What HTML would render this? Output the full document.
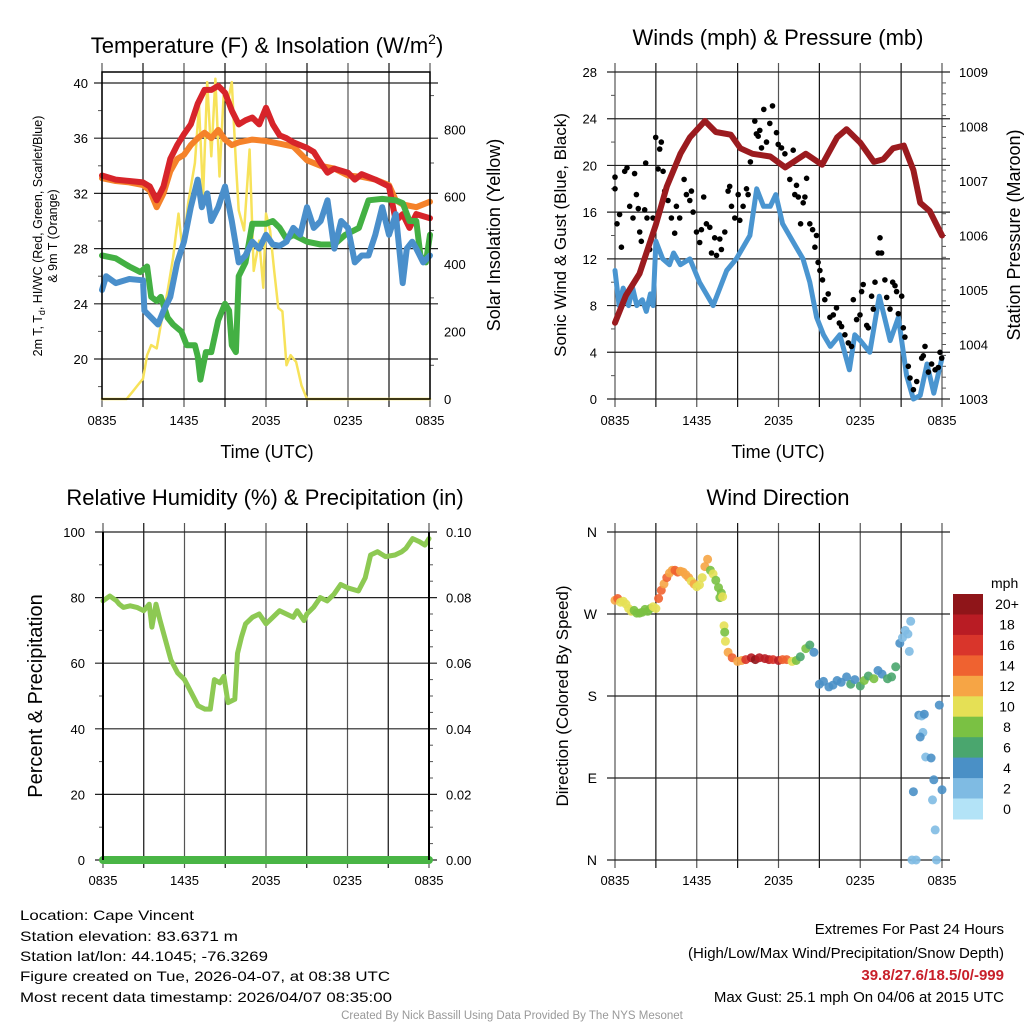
<!DOCTYPE html>
<html><head><meta charset="utf-8"><style>
html,body{margin:0;padding:0;background:#fff;}
svg{display:block;font-family:"Liberation Sans",sans-serif;}
</style></head><body>
<svg id="c" width="1024" height="1024" viewBox="0 0 1024 1024" xmlns="http://www.w3.org/2000/svg">
<g id="titles" font-size="22" text-anchor="middle" fill="#000">
<text x="267" y="53">Temperature (F) &amp; Insolation (W/m<tspan dy="-9" font-size="14">2</tspan><tspan dy="9">)</tspan></text>
<text x="778" y="45">Winds (mph) &amp; Pressure (mb)</text>
<text x="265" y="505">Relative Humidity (%) &amp; Precipitation (in)</text>
<text x="778" y="505">Wind Direction</text>
</g>
<g fill="#000" text-anchor="middle">
<text x="267" y="458" font-size="18">Time (UTC)</text>
<text x="778" y="458" font-size="18">Time (UTC)</text>
<text transform="translate(42,236) rotate(-90)" font-size="12.5">2m T, T<tspan font-size="9" dy="3">d</tspan><tspan dy="-3">, HI/WC (Red, Green, Scarlet/Blue)</tspan></text>
<text transform="translate(57,236) rotate(-90)" font-size="12.5">&amp; 9m T (Orange)</text>
<text transform="translate(500,235) rotate(-90)" font-size="18">Solar Insolation (Yellow)</text>
<text transform="translate(566,235) rotate(-90)" font-size="17">Sonic Wind &amp; Gust (Blue, Black)</text>
<text transform="translate(1020,235) rotate(-90)" font-size="18">Station Pressure (Maroon)</text>
<text transform="translate(42,696) rotate(-90)" font-size="20">Percent &amp; Precipitation</text>
<text transform="translate(568,696) rotate(-90)" font-size="17">Direction (Colored By Speed)</text>
</g>
<g font-size="14" fill="#000">
<text x="20" y="920" textLength="174" lengthAdjust="spacingAndGlyphs">Location: Cape Vincent</text>
<text x="20" y="941" textLength="218" lengthAdjust="spacingAndGlyphs">Station elevation: 83.6371 m</text>
<text x="20" y="961" textLength="248" lengthAdjust="spacingAndGlyphs">Station lat/lon: 44.1045; -76.3269</text>
<text x="20" y="981" textLength="370" lengthAdjust="spacingAndGlyphs">Figure created on Tue, 2026-04-07, at 08:38 UTC</text>
<text x="20" y="1002" textLength="372" lengthAdjust="spacingAndGlyphs">Most recent data timestamp: 2026/04/07 08:35:00</text>
</g>
<g font-size="15" fill="#000" text-anchor="end">
<text x="1004" y="934">Extremes For Past 24 Hours</text>
<text x="1004" y="958">(High/Low/Max Wind/Precipitation/Snow Depth)</text>
<text x="1004" y="980" font-weight="bold" fill="#c8202a">39.8/27.6/18.5/0/-999</text>
<text x="1004" y="1002">Max Gust: 25.1 mph On 04/06 at 2015 UTC</text>
</g>
<text x="512" y="1019" font-size="11.5" fill="#999" text-anchor="middle">Created By Nick Bassill Using Data Provided By The NYS Mesonet</text>
</svg>
<script>
// ---------- data ----------
const xTickLabels = ["0835","1435","2035","0235","0835"];
const tempTicks = [20,24,28,32,36,40];
const solarTicks = [0,200,400,600,800];
const windTicks = [0,4,8,12,16,20,24,28];
const presTicks = [1003,1004,1005,1006,1007,1008,1009];
const rhTicks = [0,20,40,60,80,100];
const precipTickLabels = ["0.00","0.02","0.04","0.06","0.08","0.10"];
const dirTickLabels = ["N","E","S","W","N"];
const speedBinLabels = ["20+","18","16","14","12","10","8","6","4","2","0"];

const redT_h = [0,1,2,3,3.5,4,4.5,5,5.5,6,6.5,7,7.5,8,8.5,9,9.5,10,10.5,11,11.5,12,12.5,13,13.5,14,15,15.5,16,16.5,17,18,18.5,19,20,21,21.5,22,22.5,23,24];
const redT_v = [33.3,33,32.9,32.8,32.5,31.5,32.5,34.5,35.5,36.3,37,38.5,39.5,39.5,39.8,39.3,38,37,37.3,37.5,37,38.2,37,36.2,36,35.7,35.3,35,34.2,33.5,33.8,33.5,33,33.4,33,32.5,30,30.5,29.5,30.5,30.2];
const orgT_h = [0,1,2,3,3.5,4,4.5,5,5.5,6,6.5,7,7.5,8,8.5,9,9.5,10,11,12,13,14,15,16,17,18,19,20,21,21.5,22,23,24];
const orgT_v = [33.1,32.9,32.8,32.6,32.2,31,32,33.6,34.5,34.8,35.5,36,36.4,36,36.6,35.9,35.5,35.7,35.9,35.8,35.6,35.4,34.4,34,33.8,33.3,33.2,33,32.6,31.5,31.2,31,31.4];
const bluT_h = [0,0.3,1,2,3,3.1,3.6,4.1,4.5,5,5.5,6,6.5,7,7.3,7.7,8,8.5,9,9.5,10,10.5,11,11.5,12,12.5,13,13.5,14,14.5,15,15.5,16,16.5,17,17.5,18,18.5,19,19.5,20,20.5,21,21.5,22,22.3,22.7,23,23.5,24];
const bluT_v = [25,26,25.5,25.8,25.7,23.5,23,22.5,23.5,24.5,27,28.5,31,33,31,32,30,31,32.5,30,27,27.5,28.5,28,29,28.3,28.2,28.5,29.5,29,31,29.5,30,31.5,28,30,29.5,27,27.5,27.5,29,31,29,30.5,25.5,28,28.5,28,27,27.5];
const grnT_h = [0,1,2,2.8,3.3,3.6,4,4.3,4.8,5.2,5.8,6.2,6.8,7,7.2,7.6,8,8.5,9,9.3,9.5,9.8,10,10.5,11,12,12.5,13,13.5,14,15,16,17,17.8,18.8,19.5,20.5,21.5,22,22.5,23,23.3,23.7,24];
const grnT_v = [27.5,27.3,26.7,26.3,26.7,24.5,24.2,24.5,23,22.5,22,21,21,20.2,18.5,20.5,20.5,22.8,24,23.5,21,20.5,26,27,29.8,29.8,30,29.5,28.7,29,28.5,28.3,28.3,29,29.5,31.5,31.6,31.5,31.3,30,30,27.5,27,29];
const solar_h = [0,1.8,2.2,2.6,3,3.3,3.6,4,4.3,4.8,5.2,5.6,5.9,6.3,6.8,7.1,7.4,7.7,8,8.3,8.6,8.9,9.2,9.5,9.8,10,10.4,10.8,11.1,11.5,11.8,12,12.3,12.6,12.9,13.2,13.5,13.8,14.2,14.6,15,24];
const solar_v = [0,0,20,40,60,130,160,150,220,320,420,550,440,580,700,870,600,940,720,950,660,900,880,940,700,560,500,740,380,470,330,550,500,380,270,260,100,130,110,40,0,0];

const wind_h = [0,0.3,0.6,1,1.3,1.6,2,2.3,2.6,2.8,3,3.5,4,4.3,4.8,5.5,6.2,6.7,7.2,7.7,8.2,8.9,9.4,9.9,10.4,10.9,11.4,11.8,12.3,12.8,13.3,13.8,14.3,14.8,15.3,15.8,16.5,17.2,17.6,18,18.7,19.4,20.2,20.8,21.4,21.9,22.4,22.9,23.4,24];
const wind_v = [11,8,9.5,8,9.5,8,8.5,7.5,9,8,13.5,12,11.5,12.5,11.5,12,10,9,8,9.5,11,12,13,14,18,16.5,16.5,17.5,15,14,13,12,10,7,5.5,4.5,5.5,2.5,5.5,5,4,8.8,5,7,2,0,0.3,3,0.5,3.5];
const pres_h = [0,0.8,1.8,3,3.8,4.8,5.5,6.6,7.4,8.5,9.2,10.1,11.4,12.5,14,15.2,16.3,17,18,19,19.7,20.4,21.2,21.9,22.4,23.1,23.6,24];
const pres_v = [1004.4,1004.9,1005.3,1006.2,1006.9,1007.5,1007.8,1008.1,1007.9,1007.85,1007.6,1007.5,1007.45,1007.25,1007.5,1007.3,1007.8,1007.95,1007.7,1007.35,1007.4,1007.6,1007.65,1007.2,1006.6,1006.45,1006.2,1006];
const gust_h = [0,0,0.15,0.34,0.47,0.71,0.88,1.08,1.32,1.44,1.57,1.71,1.81,1.93,2.18,2.25,2.35,2.55,2.79,2.99,3.16,3.28,3.4,3.53,3.65,3.89,4.14,4.38,4.51,4.75,5.07,5.24,5.49,5.61,5.73,5.98,6.22,6.34,6.51,6.71,6.96,7.08,7.32,7.45,7.69,7.81,8.06,8.3,8.42,8.55,8.79,9.04,9.16,9.4,9.65,9.77,9.94,10.26,10.38,10.51,10.63,10.75,10.92,11.12,11.36,11.56,11.85,11.98,12.22,12.47,12.71,12.83,13.08,13.2,13.32,13.45,13.62,13.81,13.94,14.06,14.3,14.5,14.67,14.79,14.91,15.04,15.23,15.4,15.65,15.77,16.02,16.26,16.46,16.63,16.87,17.12,17.36,17.49,17.73,17.98,18.1,18.22,18.47,18.59,18.83,18.96,19.08,19.32,19.45,19.57,19.81,19.94,20.18,20.38,20.55,20.67,20.79,21.04,21.16,21.28,21.53,21.65,21.9,22.14,22.51,22.63,22.75,23,23.24,23.49,23.73,23.85,23.98];
const gust_v = [19,18,15,15.8,13,19.5,19.8,16.5,15.5,19.3,17.5,16.3,14.3,13.5,16.2,20.2,15.5,12.8,15.5,22.4,19.7,21.4,22,19.5,17.8,17,15.5,14.2,16.5,15.5,18.8,17.5,17,17.8,16,14.3,13.4,14.5,17.3,15,14.7,12.5,13.8,12.3,13.7,12.8,14.3,17.8,18.2,16.5,15.5,17.5,15.3,16.5,18,17.5,20.3,23.8,22.7,22.5,23,21.5,24.8,22,23.6,25.1,22.8,21.8,21.5,21,20,18.8,21.3,17.5,18.3,17.3,15,16.8,17.3,18.9,15,14.5,13,14,11.7,11,10.2,8.5,9,7,7.2,7.8,6.5,6.2,5.5,4.8,4.5,8.5,6.8,7.2,9.2,9.8,6.3,6.1,8.8,7.7,10,12.5,13.8,12.5,10.2,8.7,7.7,10,9.7,9.2,7.3,8.8,6.1,5.3,2.8,1.8,0.8,1.5,3.5,3.7,4.5,2.3,3,2.5,2.7,4,3.5];

const rh_h = [0,0.5,1,1.2,1.5,2,2.5,3,3.4,3.6,3.9,4.2,4.6,5,5.5,6,6.5,7,7.5,7.9,8.2,8.6,8.9,9.2,9.7,9.9,10.2,10.5,11,11.5,12,12.5,13,13.5,14,14.3,14.8,15,15.5,16,16.5,17,17.5,18,18.8,19.3,19.7,20.2,20.8,21.5,22,22.3,22.8,23.3,23.7,24];
const rh_v = [79,80.5,79,78,77,77.5,77,76,78,71,78,73,67,61,57,55,51,47,46,46,55,54,56,48,49,63,68,72,74,75,72,74,76,75,74,76,73,75,77,80,79,81,84,83,82,86,93,94,92.5,93,94,95,98,97,96,98];
const precip_h = [0,24];
const precip_v = [0,0];

const dir_h = [0,0.2,0.4,0.6,0.8,1,1.2,1.4,1.6,1.8,2,2.2,2.4,2.6,2.8,3,3.2,3.4,3.6,3.8,4,4.2,4.4,4.6,4.8,5,5.2,5.4,5.6,5.8,6,6.2,6.4,6.6,6.8,7,7.2,7.4,7.6,7.8,7.7,7.9,8,8.05,8.1,8.3,8.6,9,9.3,9.6,10,10.3,10.6,11,11.3,11.6,12,12.3,12.6,13,13.3,13.6,14,14.3,14.6,15,15.3,15.7,16,16.3,16.6,17,17.3,17.6,18,18.3,18.6,19,19.3,19.6,20,20.3,20.6,20.9,21.1,21.3,21.5,21.7,21.6,22.3,22.5,22.7,22.6,22.4,22.8,21.9,23.2,23.4,23.3,23.5,23.6,21.8,22.1,23.8,24];
const dir_v = [285,287,283,284,281,276,273,274,271,271,272,275,273,276,278,276,287,296,303,310,315,318,318,316,317,316,313,310,306,303,300,302,310,322,330,318,314,307,299,293,288,289,257,250,240,228,222,218,219,220,222,220,222,221,220,220,219,220,220,218,219,223,232,236,228,193,196,190,192,197,195,201,193,198,191,197,202,199,208,204,199,201,212,238,244,252,248,262,229,159,158,160,140,135,113,75,112,88,66,33,0,0,0,170,77,80];
const dir_s = [11,13,10,10,10,9,10,8,7,8,8,8,7,8,9,10,14,13,12,14,12,12,13,13,12,11,12,11,10,11,10,10,9,12,11,7,9,8,8,7,8,10,9,8,10,11,13,12,12,15,17,19,18,18,18,16,17,13,13,10,8,6,8,6,4,4,4,4,4,3,4,4,5,4,6,7,6,7,4,4,6,6,6,3,2,2,1,1,1,4,2,3,2,3,1,3,4,3,2,1,1,1,1,4,4];
const binColors = ["#8f1519","#b91c24","#d9352b","#ef6230","#f6a545","#e5e055","#7ac143","#4aa66e","#4a90c6","#7fbbe3","#b3e3f7"];

// ---------- helpers ----------
const svg = document.getElementById('c');
const NS = 'http://www.w3.org/2000/svg';
function mk(tag, parent){ const e=document.createElementNS(NS,tag); (parent||svg).appendChild(e); return e; }
function scale(d0,d1,r0,r1){ return v => r0 + (v-d0)/(d1-d0)*(r1-r0); }

function grid(g, x0,x1,y0,y1, ys){
  for(let i=0;i<=8;i++){
    const x = x0 + (x1-x0)*i/8;
    const l = mk('line',g);
    
    
    l.setAttribute('x1',x); l.setAttribute('x2',x);
    l.setAttribute('y1',y0-9); l.setAttribute('y2',y1+8);
    l.setAttribute('stroke', i%2? '#111':'#555'); l.setAttribute('stroke-width','1.2');
  }
  ys.forEach(y=>{
    const l = mk('line',g);
    
    
    l.setAttribute('x1',x0-8); l.setAttribute('x2',x1+8);
    l.setAttribute('y1',y); l.setAttribute('y2',y);
    l.setAttribute('stroke','#222'); l.setAttribute('stroke-width','1.2');
  });
}
function label(g,x,y,txt,anchor,size){
  const t = mk('text',g);
  
  
  t.setAttribute('x',x); t.setAttribute('y',y);
  t.setAttribute('text-anchor',anchor); t.setAttribute('font-size',size||13);
  t.textContent = txt;
}
function xlabels(g,x0,x1,y){
  xTickLabels.forEach((s,i)=>label(g, x0+(x1-x0)*i/4, y, s, 'middle'));
}
function minor(g,x,ys,dir){
  ys.forEach(y=>{
    const l = mk('line',g);
    
    
    l.setAttribute('x1',x); l.setAttribute('x2',x+dir*4);
    l.setAttribute('y1',y); l.setAttribute('y2',y);
    l.setAttribute('stroke','#555'); l.setAttribute('stroke-width','1');
  });
}
function line(g, hs, vs, xs, ys, color, w, name){
  const p = mk('polyline',g);
  
  
  p.setAttribute('points', hs.map((h,i)=>xs(h).toFixed(1)+','+ys(vs[i]).toFixed(1)).join(' '));
  p.setAttribute('fill','none'); p.setAttribute('stroke',color);
  p.setAttribute('stroke-width',w); p.setAttribute('stroke-linejoin','round'); p.setAttribute('stroke-linecap','round');
}
function frame(g,x0,x1,y0,y1){
  const r = mk('rect',g);
  
  
  r.setAttribute('x',x0); r.setAttribute('y',y0); r.setAttribute('width',x1-x0); r.setAttribute('height',y1-y0);
  r.setAttribute('fill','none'); r.setAttribute('stroke','#000'); r.setAttribute('stroke-width','1.5');
}

// ---------- panel 1: temperature ----------
{
  const g = mk('g');  
  const x0=102,x1=430,y0=72,y1=399;
  const xs = scale(0,24,x0,x1);
  const ys = scale(20,40,359,83);
  const ss = scale(0,800,399,129.3);
  grid(g,x0,x1,y0,y1, tempTicks.map(ys));
  tempTicks.forEach(v=>label(g,x0-14,ys(v)+5,String(v),'end'));
  solarTicks.forEach(v=>label(g,x1+14,ss(v)+5,String(v),'start'));
  minor(g,x1,[100,300,500,700,900].map(ss),1);
  minor(g,x0,[18,22,26,30,34,38].map(ys),-1);
  xlabels(g,x0,x1,425);
  line(g,solar_h,solar_v,xs,ss,'#f7e25a',2.5,'solar-insolation-line');
  line(g,orgT_h,orgT_v,xs,ys,'#f5822a',6,'temp-9m-line');
  line(g,redT_h,redT_v,xs,ys,'#d7242a',6,'temp-2m-line');
  line(g,grnT_h,grnT_v,xs,ys,'#43b043',6,'dewpoint-line');
  line(g,bluT_h,bluT_v,xs,ys,'#4a8fcb',6,'wind-chill-line');
  frame(g,x0,x1,y0,y1);
}
// ---------- panel 2: winds ----------
{
  const g = mk('g');  
  const x0=615,x1=942,y0=72,y1=399;
  const xs = scale(0,24,x0,x1);
  const ws = scale(0,28,y1,y0);
  const ps = scale(1003,1009,y1,y0);
  grid(g,x0,x1,y0,y1, windTicks.map(ws));
  windTicks.forEach(v=>label(g,x0-18,ws(v)+5,String(v),'end'));
  presTicks.forEach(v=>label(g,x1+17,ps(v)+5,String(v),'start'));
  minor(g,x0,[2,6,10,14,18,22,26].map(ws),-1);
  const mm=[]; for(let p=1003.2;p<1009;p+=0.2){ mm.push(ps(p)); } minor(g,x1,mm,1);
  xlabels(g,x0,x1,425);
  line(g,wind_h,wind_v,xs,ws,'#4a95d0',5,'sonic-wind-line');
  gust_h.forEach((h,i)=>{
    const c = mk('circle',g);
    
    
    c.setAttribute('cx',xs(h).toFixed(1)); c.setAttribute('cy',ws(gust_v[i]).toFixed(1)); c.setAttribute('r','2.8'); c.setAttribute('fill','#000');
  });
  line(g,pres_h,pres_v,xs,ps,'#9b1b1f',6,'station-pressure-line');
}
// ---------- panel 3: humidity ----------
{
  const g = mk('g');  
  const x0=103,x1=429,y0=532,y1=860;
  const xs = scale(0,24,x0,x1);
  const rs = scale(0,100,y1,y0);
  grid(g,x0,x1,y0,y1, rhTicks.map(rs));
  rhTicks.forEach(v=>label(g,x0-18,rs(v)+5,String(v),'end'));
  precipTickLabels.forEach((s,i)=>label(g,x1+17,rs(i*20)+5,s,'start'));
  minor(g,x0,[10,30,50,70,90].map(rs),-1);
  minor(g,x1,[5,10,15,25,30,35,45,50,55,65,70,75,85,90,95].map(rs),1);
  xlabels(g,x0,x1,885);
  line(g,rh_h,rh_v,xs,rs,'#8dc953',5,'relative-humidity-line');
  line(g,precip_h,precip_v,xs,rs,'#49b545',8,'precipitation-line');
  const b = mk('line',g);  
  b.setAttribute('x1',x0); b.setAttribute('x2',x0); b.setAttribute('y1',y0); b.setAttribute('y2',y1); b.setAttribute('stroke','#000'); b.setAttribute('stroke-width','2');
  const b2 = mk('line',g);  
  b2.setAttribute('x1',x1); b2.setAttribute('x2',x1); b2.setAttribute('y1',y0); b2.setAttribute('y2',y1); b2.setAttribute('stroke','#000'); b2.setAttribute('stroke-width','2');
}
// ---------- panel 4: wind direction ----------
{
  const g = mk('g');  
  const x0=615,x1=942,y0=532,y1=860;
  const xs = scale(0,24,x0,x1);
  const ds = scale(0,360,y1,y0);
  grid(g,x0,x1,y0,y1,[0,90,180,270,360].map(ds));
  dirTickLabels.forEach((s,i)=>label(g,x0-18,ds(i*90)+5,s,'end',14));
  xlabels(g,x0,x1,885);
  dir_h.forEach((h,i)=>{
    const bin = Math.max(0, 10 - Math.min(10, Math.round(dir_s[i]/2)));
    const c = mk('circle',g);
    
    
    c.setAttribute('cx',xs(h).toFixed(1)); c.setAttribute('cy',ds(dir_v[i]).toFixed(1)); c.setAttribute('r','4.5');
    c.setAttribute('fill',binColors[bin]); c.setAttribute('fill-opacity','0.9');
  });
  const cb = mk('g');  
  const t = mk('text',cb);  
  t.setAttribute('x','991'); t.setAttribute('y','588'); t.setAttribute('font-size','14'); t.textContent='mph';
  const bh = (819-594)/11;
  speedBinLabels.forEach((s,i)=>{
    const r = mk('rect',cb);
    
    
    r.setAttribute('x','953'); r.setAttribute('y',(594+i*bh).toFixed(1)); r.setAttribute('width','30'); r.setAttribute('height',(bh+0.5).toFixed(1));
    r.setAttribute('fill',binColors[i]);
    label(cb,1007,594+i*bh+bh/2+5,s,'middle',14);
  });
}
</script>
</body></html>
